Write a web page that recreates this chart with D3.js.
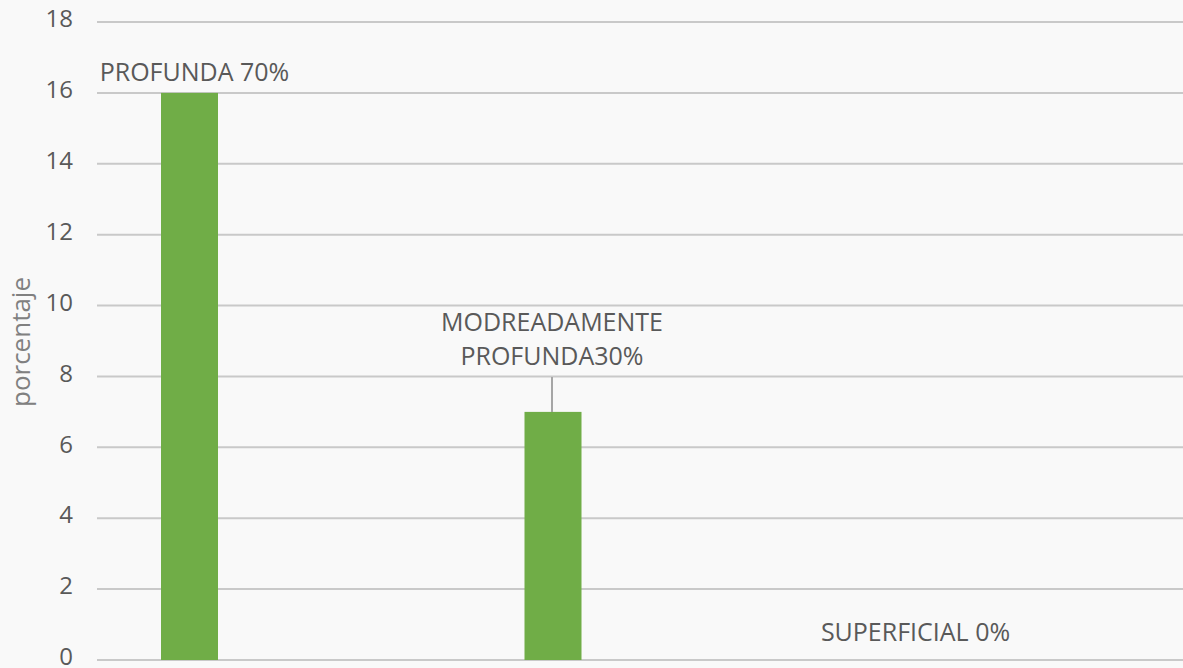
<!DOCTYPE html>
<html><head><meta charset="utf-8">
<script src="https://cdn.jsdelivr.net/npm/d3@7"></script>
<style>
html,body{margin:0;padding:0;background:#f9f9f9;}
svg{display:block;font-family:"Open Sans","Noto Sans",sans-serif;}
</style></head>
<body>
<svg id="chart" width="1183" height="668"></svg>
<script>
const categories = ["PROFUNDA", "MODREADAMENTE PROFUNDA", "SUPERFICIAL"];
const values = [16, 7, 0];
const dataLabels = [["PROFUNDA 70%"], ["MODREADAMENTE", "PROFUNDA30%"], ["SUPERFICIAL 0%"]];
const yTicks = [0, 2, 4, 6, 8, 10, 12, 14, 16, 18];
const yTitle = "porcentaje";

const svg = d3.select("#chart");
const W = 1183, H = 668;
const plotLeft = 97, plotRight = 1183;
const y = d3.scaleLinear().domain([0, 18]).range([660, 22]);
const x = d3.scalePoint().domain(categories).range([189.5, 916.5]);
const barW = 57;
const textColor = "#595959";
const fs = 24;

svg.append("rect").attr("width", W).attr("height", H).attr("fill", "#f9f9f9");

// gridlines
svg.append("g").selectAll("line").data(yTicks).join("line")
  .attr("x1", plotLeft).attr("x2", plotRight)
  .attr("y1", d => y(d)).attr("y2", d => y(d))
  .attr("stroke", "#c9c9c9").attr("stroke-width", 2);

// y axis labels
const yAxis = d3.axisLeft(y).tickValues(yTicks).tickSize(0).tickPadding(0);
const ga = svg.append("g").attr("transform", `translate(73,-3)`).call(yAxis);
ga.select(".domain").remove();
ga.selectAll("text").attr("font-size", fs).attr("fill", textColor)
  .attr("font-family", "'Open Sans','Noto Sans',sans-serif");

// bars
svg.append("g").selectAll("rect").data(categories).join("rect")
  .attr("x", d => x(d) - barW / 2)
  .attr("y", (d, i) => y(values[i]))
  .attr("width", barW)
  .attr("height", (d, i) => y(0) - y(values[i]))
  .attr("fill", "#70ad47");

// data labels
const lbl = svg.append("g").attr("font-size", 25).attr("fill", textColor).attr("text-anchor", "middle");
lbl.append("text").attr("x", x(categories[0]) + 5).attr("y", y(values[0]) - 12).text(dataLabels[0][0]);
const cx2 = x(categories[1]) - 1;
lbl.append("text").attr("x", cx2).attr("y", y(values[1]) - 81).text(dataLabels[1][0]);
lbl.append("text").attr("x", cx2).attr("y", y(values[1]) - 47).text(dataLabels[1][1]);
svg.append("line").attr("x1", cx2).attr("x2", cx2)
  .attr("y1", y(values[1]) - 35).attr("y2", y(values[1]))
  .attr("stroke", "#a6a6a6").attr("stroke-width", 2);
lbl.append("text").attr("x", x(categories[2]) - 1).attr("y", y(values[2]) - 19).text(dataLabels[2][0]);

// y title
svg.append("text").attr("transform", "translate(30,342) rotate(-90)")
  .attr("text-anchor", "middle").attr("font-size", 26).attr("fill", "#808080").text(yTitle);
</script>
</body></html>
